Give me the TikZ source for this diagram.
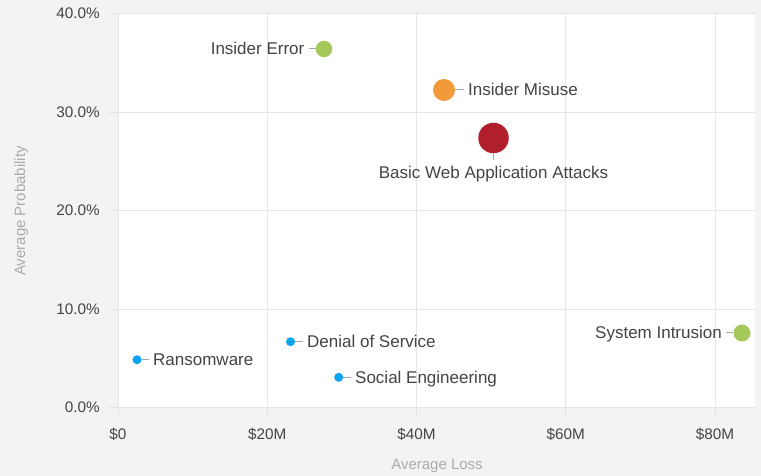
\documentclass[tikz,border=0pt]{standalone}
\usepackage{fontspec}
\setmainfont{Liberation Sans}
\usepackage{tikz}

\definecolor{bggray}{HTML}{F3F3F3}
\definecolor{gridgray}{HTML}{E5E5E5}
\definecolor{textgray}{HTML}{444444}
\definecolor{titlegray}{HTML}{ABABAB}
\definecolor{leadgray}{HTML}{A8A8A8}
\definecolor{bblue}{HTML}{0AA5F2}
\definecolor{bgreen}{HTML}{A4C85A}
\definecolor{borange}{HTML}{F2993A}
\definecolor{bred}{HTML}{B11E2C}

\begin{document}
\begin{tikzpicture}[
	bubble/.style={circle, fill=#1, draw=none, inner sep=0pt},
	lbl/.style={font=\fontsize{17bp}{20bp}\selectfont, text=textgray, inner xsep=4bp, inner ysep=1bp, text height=11.8bp, text depth=0bp},
	tick/.style={font=\fontsize{15.3bp}{18bp}\selectfont, text=textgray, inner sep=0pt},
	axistitle/.style={font=\fontsize{15bp}{18bp}\selectfont, text=titlegray, inner sep=0pt},
	grid/.style={draw=gridgray, line width=1bp},
	leader/.style={draw=leadgray, line width=1bp}]

	\fill [bggray] (0bp,0bp) rectangle (761bp,476bp);
	\fill [white]  (118bp,68bp) rectangle (755bp,462bp);

	% grid and ticks
	\foreach \k/\t in {0/0.0,1/10.0,2/20.0,3/30.0,4/40.0} {
		\pgfmathsetmacro{\gy}{68+98.5*\k}
		\pgfmathsetmacro{\ly}{\gy-5}
		\draw [grid] (109bp,\gy bp) -- (755bp,\gy bp);
		\node (ytick\k) at (100bp,\ly bp) [tick, anchor=base east] {\t\%};
	}
	\foreach \k/\t in {0/{\$0},1/{\$20M},2/{\$40M},3/{\$60M},4/{\$80M}} {
		\pgfmathsetmacro{\gx}{118+149.25*\k}
		\draw [grid] (\gx bp,58bp) -- (\gx bp,462bp);
		\node (xtick\k) at (\gx bp,37bp) [tick, anchor=base] {\t};
	}

	\node (ytitle) at (25bp,265bp) [axistitle, rotate=90, anchor=base] {Average Probability};
	\node (xtitle) at (437bp,7bp)  [axistitle, anchor=base]            {Average Loss};

	% bubbles
	\node (ierr) at (324bp,427bp)     [bubble=bgreen,  minimum size=16.5bp] {};
	\node (imis) at (444bp,386bp)     [bubble=borange, minimum size=22bp]   {};
	\node (bweb) at (493.5bp,338bp)   [bubble=bred,    minimum size=30.5bp] {};
	\node (sint) at (742bp,143bp)     [bubble=bgreen,  minimum size=17bp]   {};
	\node (rans) at (137bp,116.3bp)   [bubble=bblue,   minimum size=9bp]    {};
	\node (dos)  at (290.5bp,134.3bp) [bubble=bblue,   minimum size=9bp]    {};
	\node (soc)  at (338.7bp,98.7bp)  [bubble=bblue,   minimum size=9bp]    {};

	% labels
	\node (ierrlbl) at (308.5bp,427bp)   [lbl, anchor=east]  {Insider Error};
	\node (imislbl) at (464bp,386bp)     [lbl, anchor=west]  {Insider Misuse};
	\node (bweblbl) at (493.5bp,316bp)   [lbl, anchor=north, inner ysep=6.5bp] {Basic Web Application Attacks};
	\node (sintlbl) at (726bp,143bp)     [lbl, anchor=east]  {System Intrusion};
	\node (ranslbl) at (149bp,116.3bp)   [lbl, anchor=west]  {Ransomware};
	\node (doslbl)  at (303bp,134.3bp)   [lbl, anchor=west]  {Denial of Service};
	\node (soclbl)  at (351bp,98.7bp)    [lbl, anchor=west]  {Social Engineering};

	\draw [leader] (ierr) -- (ierrlbl);
	\draw [leader] (imis) -- (imislbl);
	\draw [leader] (bweb) -- (bweblbl);
	\draw [leader] (sint) -- (sintlbl);
	\draw [leader] (rans) -- (ranslbl);
	\draw [leader] (dos)  -- (doslbl);
	\draw [leader] (soc)  -- (soclbl);
\end{tikzpicture}
\end{document}
